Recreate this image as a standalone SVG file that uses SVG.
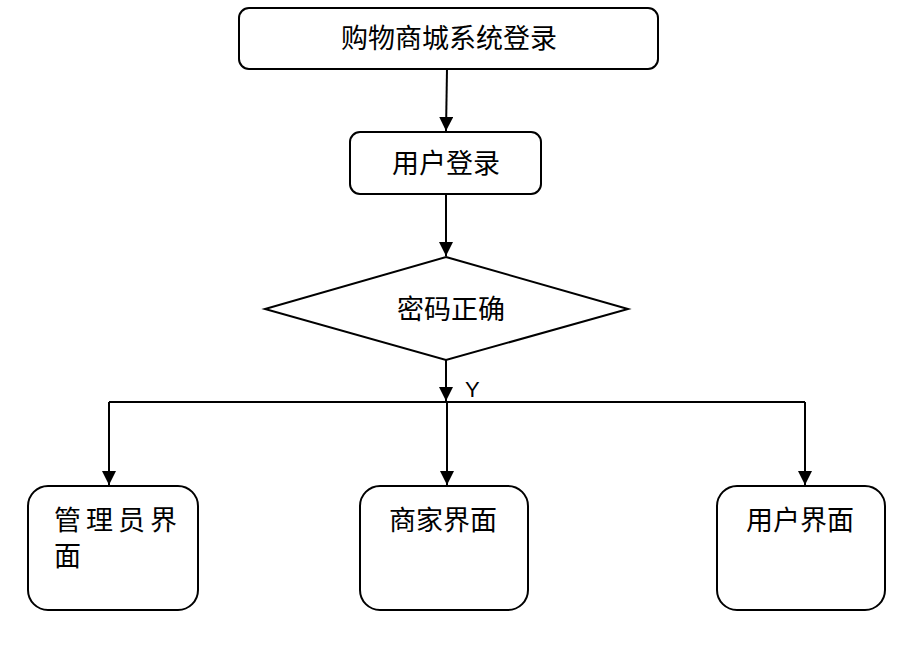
<svg xmlns="http://www.w3.org/2000/svg" width="909" height="645" viewBox="0 0 909 645">
<defs>
<marker id="ah" viewBox="0 0 10 10" refX="10" refY="5" markerWidth="7" markerHeight="7" markerUnits="strokeWidth" orient="auto">
<path d="M0,0 L10,5 L0,10 z" fill="#000"/>
</marker>
<style>
.box{fill:#fff;stroke:#000;stroke-width:2}
.ln{fill:none;stroke:#000;stroke-width:2}
.t{font-family:"Liberation Serif","Noto Sans CJK SC",serif;font-size:27px;fill:#000}
.y{font-family:"Liberation Sans",Arial,sans-serif;font-size:22px;fill:#000}
</style>
</defs>
<rect width="909" height="645" fill="#fff"/>
<g id="n-title"><rect class="box" x="239" y="8" width="419" height="61" rx="10"/><text class="t" x="449" y="48" text-anchor="middle">购物商城系统登录</text></g>
<g id="n-login"><rect class="box" x="350" y="132" width="191" height="62" rx="10"/><text class="t" x="446" y="173" text-anchor="middle">用户登录</text></g>
<g id="n-check"><polygon class="box" points="446,257 628,309 446,360 265,309"/><text class="t" x="451" y="319" text-anchor="middle">密码正确</text></g>
<g id="n-admin"><rect class="box" x="28" y="486" width="170" height="124" rx="20"/><text class="t" x="54" y="530" letter-spacing="5">管理员界</text><text class="t" x="54" y="566">面</text></g>
<g id="n-merchant"><rect class="box" x="360" y="486" width="168" height="124" rx="20"/><text class="t" x="443" y="530" text-anchor="middle">商家界面</text></g>
<g id="n-user"><rect class="box" x="717" y="486" width="168" height="124" rx="20"/><text class="t" x="800" y="530" text-anchor="middle">用户界面</text></g>
<g id="connectors">
<line class="ln" x1="447" y1="69" x2="446" y2="131" marker-end="url(#ah)"/>
<line class="ln" x1="446" y1="194" x2="446" y2="256" marker-end="url(#ah)"/>
<line class="ln" x1="446" y1="360" x2="446" y2="401" marker-end="url(#ah)"/>
<line class="ln" x1="109" y1="402" x2="805" y2="402"/>
<line class="ln" x1="109" y1="402" x2="109" y2="485" marker-end="url(#ah)"/>
<line class="ln" x1="447" y1="402" x2="447" y2="485" marker-end="url(#ah)"/>
<line class="ln" x1="805" y1="402" x2="805" y2="485" marker-end="url(#ah)"/>
<text class="y" x="465" y="397">Y</text>
</g>
</svg>
